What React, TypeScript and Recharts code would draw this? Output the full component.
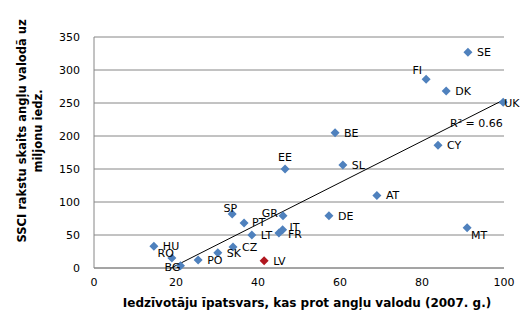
import { ScatterChart, Scatter, XAxis, YAxis, CartesianGrid } from 'recharts';

// values
const countries = ['SE', 'FI', 'DK', 'UK', 'BE', 'CY', 'SL', 'EE', 'AT', 'DE', 'GR', 'MT', 'IT', 'FR', 'LT', 'SP', 'PT', 'CZ', 'SK', 'PO', 'HU', 'RO', 'BG', 'LV'];
const englishShare = [91.2, 81, 85.9, 99.8, 58.8, 83.9, 60.7, 46.6, 69, 57.3, 46.1, 91, 46, 45.1, 38.5, 33.7, 36.6, 33.9, 30.2, 25.4, 14.6, 19, 21.1, 41.5];
const ssciPerMillion = [327, 286, 268, 251, 205, 186, 156, 150, 110, 79, 79, 61, 58, 53, 50, 82, 68, 32, 23, 12, 33, 15, 3.5, 11];
const highlighted = 'LV';

const trendX = [18.8, 100];
const trendY = [0, 255];
const rSquared = 'R² = 0.66';

const xTicks = [0, 20, 40, 60, 80, 100];
const yTicks = [0, 50, 100, 150, 200, 250, 300, 350];

// label placement per country: [anchor, dx, dy]
const labelPlacement: Record<string, [string, number, number]> = {
  FI: ['end', -4, -9],
  SP: ['end', 5, -6],
  GR: ['end', -5, -3],
  RO: ['end', 2, -5],
  BG: ['end', 0, 1],
  EE: ['middle', 0, -12],
  MT: ['start', 4, 7],
  IT: ['start', 7, -3],
  FR: ['start', 9, 1],
  UK: ['start', 1, 1],
  PT: ['start', 8, -1],
};

const points = countries.map((name, i) => ({
  name,
  x: englishShare[i],
  y: ssciPerMillion[i],
}));
const trend = trendX.map((x, i) => ({ x, y: trendY[i] }));

const BLUE = '#4F81BD';
const RED = '#B0171F';
const GRID = '#868686';
const FONT = '"DejaVu Sans", Verdana, sans-serif';

function Diamond(props: any) {
  const { cx, cy, payload } = props;
  const r = 4.5;
  const [anchor, dx, dy] = labelPlacement[payload.name] || ['start', 9, 0];
  return (
    <g>
      <polygon
        points={`${cx},${cy - r} ${cx + r},${cy} ${cx},${cy + r} ${cx - r},${cy}`}
        fill={payload.name === highlighted ? RED : BLUE}
      />
      <text
        x={cx + dx}
        y={cy + dy}
        dy="0.36em"
        textAnchor={anchor}
        fontSize={11}
        fontFamily={FONT}
        fill="#000"
      >
        {payload.name}
      </text>
    </g>
  );
}

export default function App() {
  return (
    <div style={{ position: 'absolute', left: 0, top: 0, width: 527, height: 326, background: '#fff' }}>
      <ScatterChart
        width={527}
        height={326}
        margin={{ top: 37, right: 23, bottom: 18, left: 34 }}
      >
        <CartesianGrid vertical={false} stroke={GRID} />
        <XAxis
          type="number"
          dataKey="x"
          domain={[0, 100]}
          ticks={xTicks}
          height={40}
          stroke={GRID}
          tickLine={false}
          tickMargin={4}
          tick={{ fontSize: 11, fill: '#000', fontFamily: FONT }}
        />
        <YAxis
          type="number"
          dataKey="y"
          domain={[0, 350]}
          ticks={yTicks}
          width={60}
          stroke={GRID}
          tickLine={false}
          tickMargin={8}
          tick={{ fontSize: 11, fill: '#000', fontFamily: FONT }}
        />
        <Scatter
          data={trend}
          line={{ stroke: '#000', strokeWidth: 1 }}
          shape={() => null}
          isAnimationActive={false}
        />
        <Scatter data={points} shape={<Diamond />} isAnimationActive={false} />
      </ScatterChart>
      <svg
        width={527}
        height={326}
        style={{ position: 'absolute', left: 0, top: 0, pointerEvents: 'none' }}
      >
        <text x={450} y={123} dy="0.36em" fontSize={11} fontFamily={FONT} fill="#000">
          {rSquared}
        </text>
        <text
          x={307}
          y={303}
          dy="0.36em"
          textAnchor="middle"
          fontSize={12}
          fontWeight="bold"
          fontFamily={FONT}
          fill="#000"
        >
          Iedzīvotāju īpatsvars, kas prot angļu valodu (2007. g.)
        </text>
        <g transform="translate(30,131) rotate(-90)">
          <text x={0} y={-8} dy="0.36em" textAnchor="middle" fontSize={11.5} fontWeight="bold" fontFamily={FONT} fill="#000">
            SSCI rakstu skaits angļu valodā uz
          </text>
          <text x={0} y={8} dy="0.36em" textAnchor="middle" fontSize={11.5} fontWeight="bold" fontFamily={FONT} fill="#000">
            miljonu iedz.
          </text>
        </g>
      </svg>
    </div>
  );
}
